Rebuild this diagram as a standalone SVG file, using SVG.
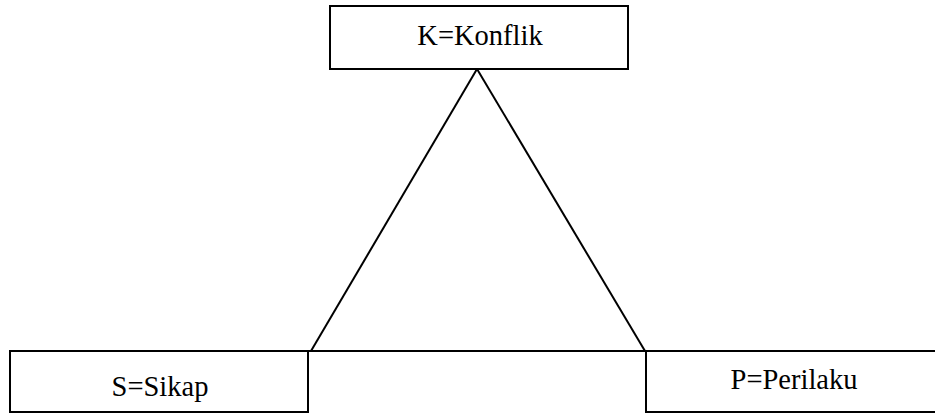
<svg xmlns="http://www.w3.org/2000/svg" width="935" height="413" viewBox="0 0 935 413">
<style>
.box{fill:#fff;stroke:#000;stroke-width:2}
.lbl{font-family:'Liberation Serif','Times New Roman',serif;font-size:28.5px;fill:#000;text-anchor:middle}
.con{stroke:#000;stroke-width:2;fill:none}
</style>
<rect width="935" height="413" fill="#fff"/>
<g id="connectors">
<line class="con" x1="477" y1="69" x2="311" y2="351"/>
<line class="con" x1="477" y1="69" x2="645" y2="351"/>
<line class="con" x1="307" y1="351" x2="646" y2="351"/>
</g>
<g id="node-k">
<rect class="box" x="330" y="6" width="298" height="63"/>
<text class="lbl" x="480" y="45">K=Konflik</text>
</g>
<g id="node-s">
<rect class="box" x="10" y="351" width="298" height="61"/>
<text class="lbl" x="160" y="396">S=Sikap</text>
</g>
<g id="node-p">
<rect class="box" x="646" y="351" width="300" height="61"/>
<text class="lbl" x="794" y="389">P=Perilaku</text>
</g>
</svg>
